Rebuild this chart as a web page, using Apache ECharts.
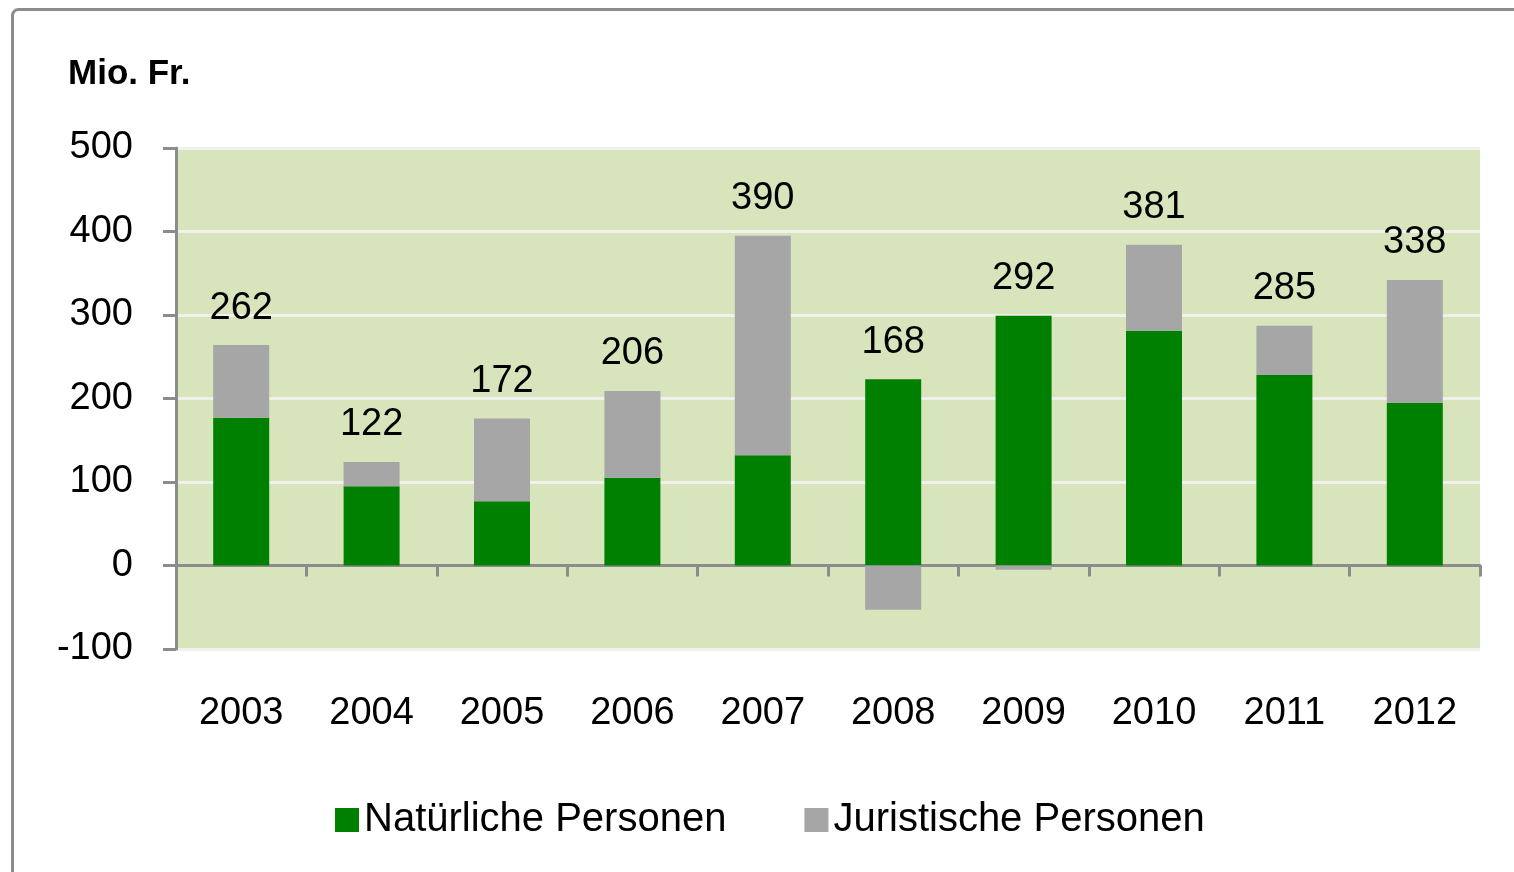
<!DOCTYPE html>
<html>
<head>
<meta charset="utf-8">
<script src="https://cdn.jsdelivr.net/npm/echarts@6/dist/echarts.min.js"></script>
<style>
html,body{margin:0;padding:0;background:#fff;}
#chart{width:1514px;height:872px;}
</style>
</head>
<body>
<div id="chart"></div>
<script>
const years = ['2003','2004','2005','2006','2007','2008','2009','2010','2011','2012'];
const natuerliche = [177, 95, 77, 105, 132, 223, 299, 281, 228, 195];
const juristische = [87, 29, 99, 104, 263, -53, -5, 103, 59, 147];
const totals = [262, 122, 172, 206, 390, 168, 292, 381, 285, 338];
const yTicks = [-100, 0, 100, 200, 300, 400, 500];

const font = 'Liberation Sans, Arial, sans-serif';
const labelTops = natuerliche.map((v, i) => v + Math.max(juristische[i], 0));

const chart = echarts.init(document.getElementById('chart'));
chart.setOption({
  animation: false,
  backgroundColor: '#ffffff',
  graphic: [
    {
      type: 'rect', left: 10, top: 7,
      shape: { width: 1700, height: 1000, r: 6 },
      style: { fill: 'none', stroke: '#8c8c8c', lineWidth: 3 },
      silent: true, z: -10
    },
    {
      type: 'text', left: 68, top: 57,
      style: { text: 'Mio. Fr.', font: 'bold 35px ' + font, fill: '#000' }
    }
  ],
  grid: {
    left: 176, right: 34, top: 148, bottom: 223,
    show: true, backgroundColor: '#d8e4bc', borderWidth: 0
  },
  legend: {
    data: ['Natürliche Personen', 'Juristische Personen'],
    left: 330, top: 795,
    icon: 'rect', itemWidth: 24, itemHeight: 24, itemGap: 78,
    textStyle: { fontFamily: font, fontSize: 40, color: '#000' }
  },
  xAxis: {
    type: 'category',
    data: years,
    axisLine: { onZero: true, lineStyle: { color: '#8c8c8c', width: 3 } },
    axisTick: { show: true, length: 11, inside: false, lineStyle: { color: '#8c8c8c', width: 3 } },
    axisLabel: { margin: 46, fontFamily: font, fontSize: 38, color: '#000' },
    splitLine: { show: false }
  },
  yAxis: {
    type: 'value',
    min: yTicks[0], max: yTicks[yTicks.length - 1], interval: 100,
    axisLine: { show: true, lineStyle: { color: '#8c8c8c', width: 3 } },
    axisTick: { show: true, length: 13, lineStyle: { color: '#8c8c8c', width: 3 } },
    axisLabel: { margin: 43, fontFamily: font, fontSize: 38, color: '#000' },
    splitLine: { show: true, lineStyle: { color: '#f0f0ec', width: 3 } }
  },
  series: [
    {
      name: 'Natürliche Personen', type: 'bar', stack: 'total',
      data: natuerliche, barWidth: 56, barCategoryGap: '57%',
      itemStyle: { color: '#008000' }
    },
    {
      name: 'Juristische Personen', type: 'bar', stack: 'total',
      data: juristische, barWidth: 56,
      itemStyle: { color: '#a6a6a6' }
    },
    {
      name: 'labels', type: 'scatter',
      data: labelTops, symbolSize: 0, silent: true,
      itemStyle: { opacity: 1, color: 'rgba(0,0,0,0)' },
      label: {
        show: true, position: 'top', distance: 18,
        formatter: p => totals[p.dataIndex],
        fontFamily: font, fontSize: 38, color: '#000', opacity: 1
      }
    }
  ]
});
</script>
</body>
</html>
